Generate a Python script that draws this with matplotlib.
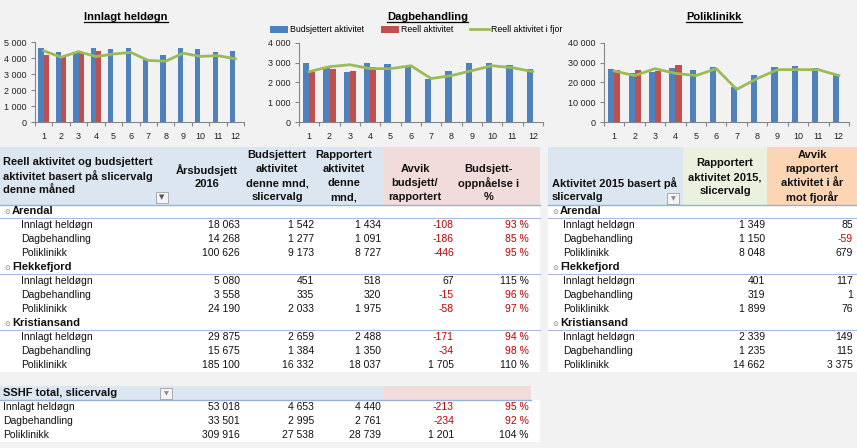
import matplotlib
matplotlib.use("Agg")
import matplotlib.pyplot as plt
from matplotlib.patches import Rectangle
from matplotlib.ticker import FuncFormatter, MultipleLocator
import numpy as np

plt.rcParams['font.family'] = ['Liberation Sans', 'DejaVu Sans']

# ---- chart data (monthly) ----
months = list(range(1, 13))

innlagt_budsjett = [4600, 4350, 4300, 4653, 4550, 4600, 3950, 4200, 4600, 4550, 4400, 4450]
innlagt_reell = [4200, 4100, 4300, 4440]
innlagt_fjor = [4450, 4050, 4400, 4089, 4250, 4350, 3850, 3800, 4300, 4100, 4150, 3950]

dag_budsjett = [3000, 2750, 2550, 2995, 2950, 2850, 2200, 2600, 3000, 3000, 2900, 2700]
dag_reell = [2550, 2700, 2600, 2761]
dag_fjor = [2550, 2800, 2900, 2704, 2700, 2850, 2200, 2350, 2600, 2850, 2750, 2550]

poli_budsjett = [27000, 25000, 25500, 27538, 26500, 28000, 17500, 24000, 28000, 28500, 27500, 24500]
poli_reell = [26500, 26500, 26000, 28739]
poli_fjor = [25800, 23500, 27000, 24609, 23500, 27000, 16500, 22000, 26500, 26500, 26500, 23500]

# ---- table data ----
units = ["Arendal", "Flekkefjord", "Kristiansand"]
activities = ["Innlagt heldøgn", "Dagbehandling", "Poliklinikk"]
aarsbudsjett = [[18063, 14268, 100626], [5080, 3558, 24190], [29875, 15675, 185100]]
budsjett_mnd = [[1542, 1277, 9173], [451, 335, 2033], [2659, 1384, 16332]]
rapportert_mnd = [[1434, 1091, 8727], [518, 320, 1975], [2488, 1350, 18037]]
avvik = [[-108, -186, -446], [67, -15, -58], [-171, -34, 1705]]
oppnaelse = [[93, 85, 95], [115, 96, 97], [94, 98, 110]]
rapportert_2015 = [[1349, 1150, 8048], [401, 319, 1899], [2339, 1235, 14662]]
avvik_fjor = [[85, -59, 679], [117, 1, 76], [149, 115, 3375]]

tot_aarsbudsjett = [53018, 33501, 309916]
tot_budsjett = [4653, 2995, 27538]
tot_rapportert = [4440, 2761, 28739]
tot_avvik = [-213, -234, 1201]
tot_oppnaelse = [95, 92, 104]

blue, red, green = '#4f81bd', '#c0504d', '#9bbb59'
neg = '#c00000'
axc = '#868686'
bg_col = '#f2f2f2'
line_col = '#95b3d7'

W, H = 857, 448
fig = plt.figure(figsize=(W / 100, H / 100), dpi=100, facecolor=bg_col)
bg = fig.add_axes([0, 0, 1, 1])
bg.set_xlim(0, W)
bg.set_ylim(H, 0)
bg.axis('off')


def px_axes(l, t, r, b):
    return fig.add_axes([l / W, 1 - b / H, (r - l) / W, (b - t) / H])


def fmt(v):
    return f"{v:,}".replace(",", " ")


titles = []


def chart(box, title, tx, budsjett, reell, fjor, ymax, step):
    ax = px_axes(*box)
    ax.set_facecolor('none')
    x = np.array(months)
    ax.bar(x - 0.15, budsjett, width=0.3, color=blue, label='Budsjettert aktivitet')
    ax.bar(x[:len(reell)] + 0.15, reell, width=0.3, color=red, label='Reell aktivitet')
    ax.plot(x, fjor, color=green, lw=2, label='Reell aktivitet i fjor')
    ax.set_xlim(0.5, 12.5)
    ax.set_ylim(0, ymax)
    ax.yaxis.set_major_locator(MultipleLocator(step))
    ax.yaxis.set_major_formatter(FuncFormatter(lambda v, p: fmt(int(v))))
    ax.set_xticks(months)
    ax.set_xticks(np.arange(0.5, 13, 1), minor=True)
    ax.tick_params(axis='x', which='major', length=0, pad=7, labelsize=6.5, labelcolor='#222222')
    ax.tick_params(axis='x', which='minor', length=3, color=axc, width=0.8)
    ax.tick_params(axis='y', length=3, color=axc, width=0.8, labelsize=6.5, pad=3, labelcolor='#222222')
    for s in ['top', 'right']:
        ax.spines[s].set_visible(False)
    for s in ['left', 'bottom']:
        ax.spines[s].set_color(axc)
        ax.spines[s].set_linewidth(0.8)
    t = bg.text(tx, 17, title, ha='center', va='center', fontsize=8, fontweight='bold')
    titles.append(t)
    return ax


chart((35, 42, 244, 122), 'Innlagt heldøgn', 126, innlagt_budsjett, innlagt_reell, innlagt_fjor, 5000, 1000)
ax2 = chart((299, 43, 543, 122), 'Dagbehandling', 428, dag_budsjett, dag_reell, dag_fjor, 4000, 1000)
chart((604, 43, 849, 122), 'Poliklinikk', 714, poli_budsjett, poli_reell, poli_fjor, 40000, 10000)

handles, labels = ax2.get_legend_handles_labels()
order = [labels.index(n) for n in ['Budsjettert aktivitet', 'Reell aktivitet', 'Reell aktivitet i fjor']]
ax2.legend([handles[i] for i in order], [labels[i] for i in order],
           loc='center', bbox_to_anchor=((416 - 299) / 244, 1 + (43 - 30) / 79), ncol=3, frameon=False,
           fontsize=6.3, handlelength=2.1, handleheight=0.8, handletextpad=0.25, columnspacing=1.9,
           borderpad=0, borderaxespad=0)


# ---- tables ----
def rect(x0, y0, x1, y1, color):
    bg.add_patch(Rectangle((x0, y0), x1 - x0, y1 - y0, facecolor=color, edgecolor='none', zorder=0))


def hline(x0, x1, y, color=line_col, lw=1.0):
    bg.plot([x0, x1], [y, y], color=color, lw=lw, zorder=1)


def header(x, y_lines, lines, ha='center'):
    for y, s in zip(y_lines, lines):
        bg.text(x, y, s, ha=ha, va='center', fontsize=8, fontweight='bold', color='#111111')


def dropdown(x0, y0, funnel=False):
    bg.add_patch(Rectangle((x0, y0), 12, 11, facecolor='#f4f4f4', edgecolor='#a0a0a0', lw=0.6, zorder=2))
    bg.text(x0 + 6, y0 + 5.5, '▼', ha='center', va='center', fontsize=4.5 if not funnel else 5,
            color='#555555' if funnel else '#8a8a8a', family='DejaVu Sans', zorder=3)


def val(x, y, v, red_if_neg=True, pct=False):
    if pct:
        s = f"{v} %"
        c = neg if v < 100 else '#111111'
    else:
        s = fmt(v)
        c = neg if (red_if_neg and v < 0) else '#111111'
    bg.text(x, y, s, ha='right', va='center', fontsize=7.5, color=c)


# left table
rect(0, 147, 384, 205, '#dce6f1')
rect(384, 147, 540, 205, '#f2dcdb')
rect(0, 205, 540, 372, 'white')
hline(0, 540, 205)
header(3, [162, 176, 190], ['Reell aktivitet og budsjettert', 'aktivitet basert på slicervalg', 'denne måned'], ha='left')
dropdown(156, 192, funnel=True)
header(207, [170, 184], ['Årsbudsjett', '2016'])
header(277, [155, 169, 183, 197], ['Budsjettert', 'aktivitet', 'denne mnd,', 'slicervalg'])
header(344, [155, 169, 183, 197], ['Rapportert', 'aktivitet', 'denne', 'mnd,'])
header(415, [169, 183, 197], ['Avvik', 'budsjett/', 'rapportert'])
header(489, [169, 183, 197], ['Budsjett-', 'oppnåelse i', '%'])

# right table
rect(548, 147, 683, 205, '#dce6f1')
rect(683, 147, 767, 205, '#ebf1de')
rect(767, 147, 857, 205, '#fcd5b4')
rect(548, 205, 857, 372, 'white')
hline(548, 857, 205)
header(552, [183, 197], ['Aktivitet 2015 basert på', 'slicervalg'], ha='left')
dropdown(667, 193)
header(725, [163, 177, 191], ['Rapportert', 'aktivitet 2015,', 'slicervalg'])
header(812, [155, 169, 183, 197], ['Avvik', 'rapportert', 'aktivitet i år', 'mot fjorår'])

y = 211
for u, unit in enumerate(units):
    for x0, x1 in [(0, 540), (548, 857)]:
        bg.text(x0 + 7, y + 0.5, '⊙', ha='center', va='center', fontsize=5, color='#777777', family='DejaVu Sans')
        bg.text(x0 + 12, y, unit, ha='left', va='center', fontsize=8, fontweight='bold', color='#111111')
        hline(x0, x1, y + 7, color='#a7bedb', lw=0.8)
    y += 14
    for a, act in enumerate(activities):
        bg.text(21, y, act, ha='left', va='center', fontsize=7.5, color='#111111')
        bg.text(563, y, act, ha='left', va='center', fontsize=7.5, color='#111111')
        val(240, y, aarsbudsjett[u][a])
        val(314, y, budsjett_mnd[u][a])
        val(381, y, rapportert_mnd[u][a])
        val(454, y, avvik[u][a])
        val(529, y, oppnaelse[u][a], pct=True)
        val(765, y, rapportert_2015[u][a])
        val(853, y, avvik_fjor[u][a])
        y += 14

# bottom total table
rect(0, 386, 384, 400, '#dce6f1')
rect(384, 386, 531, 400, '#f2dcdb')
rect(0, 400, 540, 442, 'white')
hline(0, 531, 400)
bg.text(3, 393, 'SSHF total, slicervalg', ha='left', va='center', fontsize=8, fontweight='bold', color='#111111')
dropdown(160, 388)
for a, act in enumerate(activities):
    y = 407 + 14 * a
    bg.text(3, y, act, ha='left', va='center', fontsize=7.5, color='#111111')
    val(240, y, tot_aarsbudsjett[a])
    val(314, y, tot_budsjett[a])
    val(381, y, tot_rapportert[a])
    val(454, y, tot_avvik[a])
    val(529, y, tot_oppnaelse[a], pct=True)

# underline chart titles
fig.canvas.draw()
r = fig.canvas.get_renderer()
for t in titles:
    bb = t.get_window_extent(r)
    yl = H - bb.y0 + 0.5
    bg.plot([bb.x0, bb.x1], [yl, yl], color='black', lw=0.9)

fig.savefig('out.png', dpi=100, facecolor=bg_col)
